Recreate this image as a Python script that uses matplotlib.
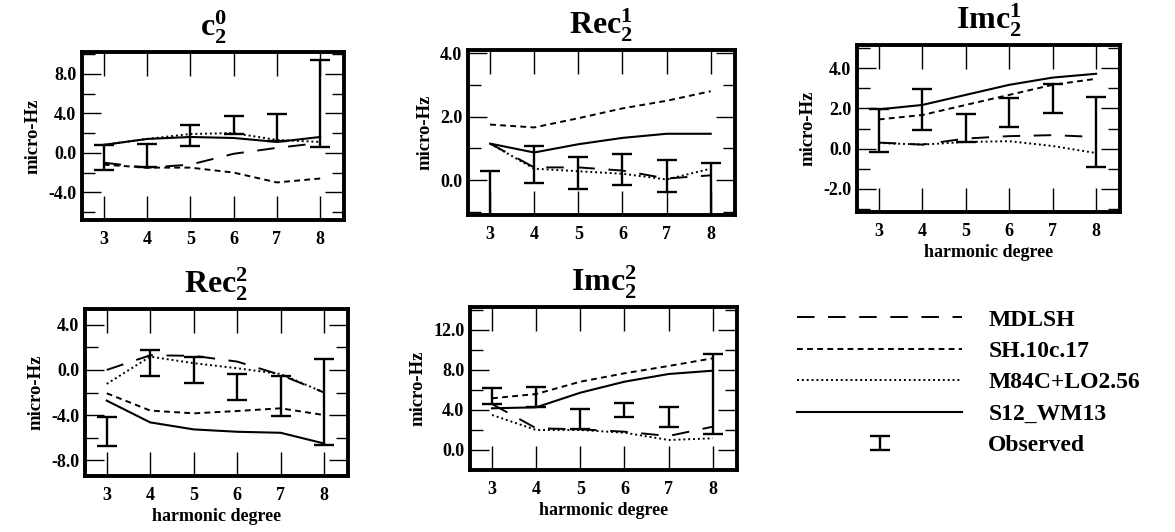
import numpy as np
import matplotlib
matplotlib.use('Agg')
import matplotlib.pyplot as plt
from matplotlib.ticker import MultipleLocator, FormatStrFormatter
from matplotlib.legend_handler import HandlerErrorbar

plt.rcParams['font.family'] = ['Liberation Serif', 'DejaVu Serif']
plt.rcParams['font.weight'] = 'bold'
plt.rcParams['mathtext.fontset'] = 'custom'
plt.rcParams['mathtext.rm'] = 'Liberation Serif:bold'
plt.rcParams['mathtext.it'] = 'Liberation Serif:bold'
plt.rcParams['mathtext.bf'] = 'Liberation Serif:bold'

# harmonic degree
deg = [3, 4, 5, 6, 7, 8]

# c_2^0
c20_mdlsh = [-1.0, -1.5, -1.2, -0.1, 0.5, 1.0]
c20_sh = [-1.2, -1.5, -1.5, -2.0, -3.0, -2.6]
c20_m84 = [0.8, 1.4, 1.9, 2.0, 1.3, 1.1]
c20_s12 = [0.8, 1.4, 1.6, 1.5, 1.1, 1.6]
c20_obs_lo = [-1.7, -1.4, 0.7, 1.9, 1.2, 0.6]
c20_obs_hi = [0.8, 0.9, 2.8, 3.7, 3.9, 9.4]

# Re c_2^1
rec21_mdlsh = [1.15, 0.4, 0.4, 0.3, 0.05, 0.15]
rec21_sh = [1.75, 1.66, 1.95, 2.26, 2.5, 2.8]
rec21_m84 = [1.15, 0.36, 0.28, 0.2, 0.02, 0.36]
rec21_s12 = [1.15, 0.87, 1.13, 1.33, 1.46, 1.46]
rec21_obs_lo = [-1.5, -0.08, -0.29, -0.15, -0.36, -1.5]
rec21_obs_hi = [0.3, 1.08, 0.72, 0.82, 0.62, 0.55]

# Im c_2^1
imc21_mdlsh = [0.3, 0.2, 0.5, 0.62, 0.67, 0.58]
imc21_sh = [1.45, 1.67, 2.17, 2.67, 3.17, 3.47]
imc21_m84 = [0.28, 0.2, 0.33, 0.37, 0.13, -0.22]
imc21_s12 = [1.95, 2.17, 2.67, 3.17, 3.53, 3.72]
imc21_obs_lo = [-0.17, 0.92, 0.33, 1.08, 1.78, -0.92]
imc21_obs_hi = [1.95, 2.95, 1.72, 2.5, 3.22, 2.55]

# Re c_2^2
rec22_mdlsh = [0.0, 1.3, 1.25, 0.74, -0.44, -2.0]
rec22_sh = [-2.07, -3.6, -3.85, -3.64, -3.4, -4.0]
rec22_m84 = [-1.24, 1.18, 0.6, 0.15, -0.36, -2.0]
rec22_s12 = [-2.72, -4.65, -5.27, -5.48, -5.57, -6.52]
rec22_obs_lo = [-6.75, -0.53, -1.18, -2.67, -4.09, -6.67]
rec22_obs_hi = [-4.15, 1.78, 1.13, -0.36, -0.53, 0.95]

# Im c_2^2
imc22_mdlsh = [4.6, 2.17, 2.07, 1.83, 1.4, 2.33]
imc22_sh = [5.17, 5.6, 6.83, 7.67, 8.4, 9.17]
imc22_m84 = [3.5, 2.0, 2.0, 1.73, 1.0, 1.17]
imc22_s12 = [4.17, 4.27, 5.73, 6.83, 7.6, 7.93]
imc22_obs_lo = [4.6, 4.33, 2.07, 3.33, 2.27, 1.6]
imc22_obs_hi = [6.17, 6.33, 4.07, 4.73, 4.27, 9.57]

model_names = ['MDLSH', 'SH.10c.17', 'M84C+LO2.56', 'S12_WM13']
titles = [r'c$_2^0$', r'Rec$_2^1$', r'Imc$_2^1$', r'Rec$_2^2$', r'Imc$_2^2$']

panels = [
    (c20_mdlsh, c20_sh, c20_m84, c20_s12, c20_obs_lo, c20_obs_hi),
    (rec21_mdlsh, rec21_sh, rec21_m84, rec21_s12, rec21_obs_lo, rec21_obs_hi),
    (imc21_mdlsh, imc21_sh, imc21_m84, imc21_s12, imc21_obs_lo, imc21_obs_hi),
    (rec22_mdlsh, rec22_sh, rec22_m84, rec22_s12, rec22_obs_lo, rec22_obs_hi),
    (imc22_mdlsh, imc22_sh, imc22_m84, imc22_s12, imc22_obs_lo, imc22_obs_hi),
]

# layout / axes settings
W, H = 1175, 532
boxes_px = [(82, 344, 52, 220), (468, 735, 50, 215), (857, 1120, 45, 212),
            (85, 348, 309, 476), (470, 737, 307, 470)]
ylims = [(-6.8, 10.2), (-1.1, 4.1), (-3.15, 5.15), (-9.4, 5.4), (-2.0, 14.3)]
ymajor = [4, 2, 2, 4, 4]
show_xlabel = [False, False, True, True, True]

styles = [dict(ls=(0, (9, 7)), lw=1.4),
          dict(ls=(0, (3, 2.2)), lw=1.4),
          dict(ls=(0, (1, 1.5)), lw=1.4),
          dict(ls='-', lw=1.5)]

fig = plt.figure(figsize=(W / 100, H / 100), dpi=100)

handles = None
for i, data in enumerate(panels):
    l, r, t, b = boxes_px[i]
    ax = fig.add_axes([l / W, 1 - b / H, (r - l) / W, (b - t) / H])
    lines = []
    for series, st in zip(data[:4], styles):
        ln, = ax.plot(deg, series, color='black', **st)
        lines.append(ln)
    lo = np.array(data[4])
    hi = np.array(data[5])
    mid = (lo + hi) / 2
    eb = ax.errorbar(deg, mid, yerr=[mid - lo, hi - mid], fmt='none',
                     ecolor='black', elinewidth=1.7, capsize=7, capthick=1.7)
    if handles is None:
        handles = lines + [eb]

    ax.set_xlim(2.5, 8.55)
    ax.set_ylim(*ylims[i])
    ax.set_xticks(deg)
    ax.yaxis.set_major_locator(MultipleLocator(ymajor[i]))
    ax.yaxis.set_minor_locator(MultipleLocator(ymajor[i] / 2))
    ax.yaxis.set_major_formatter(FormatStrFormatter('%.1f'))
    ax.tick_params(axis='x', which='major', direction='in', top=True,
                   length=17, width=1.0, labelsize=13, pad=8)
    ax.tick_params(axis='y', which='major', direction='in', right=True,
                   length=14, width=1.0, labelsize=13, pad=4)
    ax.tick_params(axis='y', which='minor', direction='in', right=True,
                   length=9, width=1.0)
    for sp in ax.spines.values():
        sp.set_linewidth(2.8)
    ax.set_ylabel('micro-Hz', fontsize=13.5, fontweight='bold', labelpad=5)
    if show_xlabel[i]:
        ax.set_xlabel('harmonic degree', fontsize=13, fontweight='bold', labelpad=3)
    ax.set_title(titles[i], fontsize=23, fontweight='bold', pad=11)

leg = fig.legend(handles, model_names + ['Observed'], loc='upper left',
                 bbox_to_anchor=(797 / W, 1 - 309 / H), frameon=False,
                 fontsize=17, handlelength=7.0, handletextpad=1.1,
                 labelspacing=0.42, borderpad=0, borderaxespad=0,
                 handler_map={handles[-1]: HandlerErrorbar(xerr_size=0.4, yerr_size=0.3)})

fig.savefig('out.png', dpi=100)
